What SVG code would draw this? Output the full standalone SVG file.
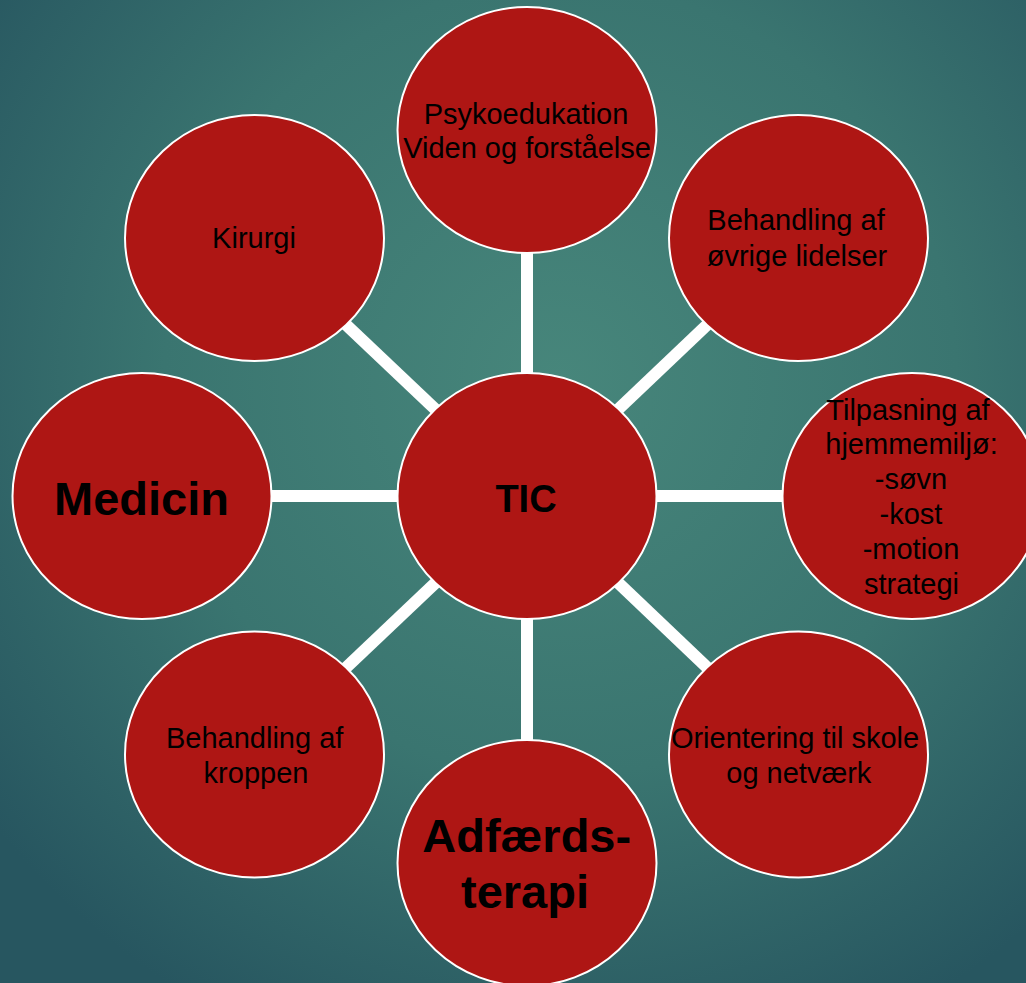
<svg xmlns="http://www.w3.org/2000/svg" width="1026" height="983" viewBox="0 0 1026 983">
<defs>
<radialGradient id="bg" cx="560" cy="380" r="720" gradientUnits="userSpaceOnUse">
<stop offset="0" stop-color="#47867b"/>
<stop offset="0.55" stop-color="#3a7570"/>
<stop offset="1" stop-color="#275660"/>
</radialGradient>
<style>
.node ellipse{fill:#ae1614;stroke:#ffffff;stroke-width:2}
.t{font-family:"Liberation Sans",Arial,sans-serif;font-size:29px;fill:#000;text-anchor:middle}
.b{font-family:"Liberation Sans",Arial,sans-serif;font-weight:bold;fill:#000;text-anchor:middle}
.conn line{stroke:#ffffff;stroke-width:12}
</style>
</defs>
<rect x="0" y="0" width="1026" height="983" fill="url(#bg)"/>
<g id="connectors" class="conn">
<line x1="527" y1="496" x2="527" y2="130"/>
<line x1="527" y1="496" x2="527" y2="863"/>
<line x1="527" y1="496" x2="142" y2="496"/>
<line x1="527" y1="496" x2="912" y2="496"/>
<line x1="527" y1="496" x2="254.5" y2="238"/>
<line x1="527" y1="496" x2="798.5" y2="238"/>
<line x1="527" y1="496" x2="254.5" y2="754.5"/>
<line x1="527" y1="496" x2="798.5" y2="754.5"/>
</g>
<g id="node-tic" class="node">
<ellipse cx="527" cy="496" rx="129.5" ry="123"/>
<text class="b" x="526" y="511.5" font-size="38">TIC</text>
</g>
<g id="node-psykoedukation" class="node">
<ellipse cx="527" cy="130" rx="129.5" ry="123"/>
<text class="t" x="526" y="124">Psykoedukation</text>
<text class="t" x="527" y="158">Viden og forståelse</text>
</g>
<g id="node-kirurgi" class="node">
<ellipse cx="254.5" cy="238" rx="129.5" ry="123"/>
<text class="t" x="254" y="248">Kirurgi</text>
</g>
<g id="node-oevrige" class="node">
<ellipse cx="798.5" cy="238" rx="129.5" ry="123"/>
<text class="t" x="796" y="230">Behandling af</text>
<text class="t" x="797" y="265.5">øvrige lidelser</text>
</g>
<g id="node-medicin" class="node">
<ellipse cx="142" cy="496" rx="129.5" ry="123"/>
<text class="b" x="141.5" y="515" font-size="47">Medicin</text>
</g>
<g id="node-tilpasning" class="node">
<ellipse cx="912" cy="496" rx="129.5" ry="123"/>
<text class="t" x="908" y="419.5">Tilpasning af</text>
<text class="t" x="911.5" y="454.3">hjemmemiljø:</text>
<text class="t" x="911" y="489.1">-søvn</text>
<text class="t" x="911" y="523.9">-kost</text>
<text class="t" x="911" y="558.7">-motion</text>
<text class="t" x="911.5" y="593.5">strategi</text>
</g>
<g id="node-kroppen" class="node">
<ellipse cx="254.5" cy="754.5" rx="129.5" ry="123"/>
<text class="t" x="254.7" y="748.3">Behandling af</text>
<text class="t" x="256" y="783.3">kroppen</text>
</g>
<g id="node-orientering" class="node">
<ellipse cx="798.5" cy="754.5" rx="129.5" ry="123"/>
<text class="t" x="795" y="748.3">Orientering til skole</text>
<text class="t" x="798.8" y="783.3">og netværk</text>
</g>
<g id="node-adfaerd" class="node">
<ellipse cx="527" cy="863" rx="129.5" ry="123"/>
<text class="b" x="526.7" y="851.7" font-size="47">Adfærds-</text>
<text class="b" x="525" y="908.3" font-size="47">terapi</text>
</g>
</svg>
